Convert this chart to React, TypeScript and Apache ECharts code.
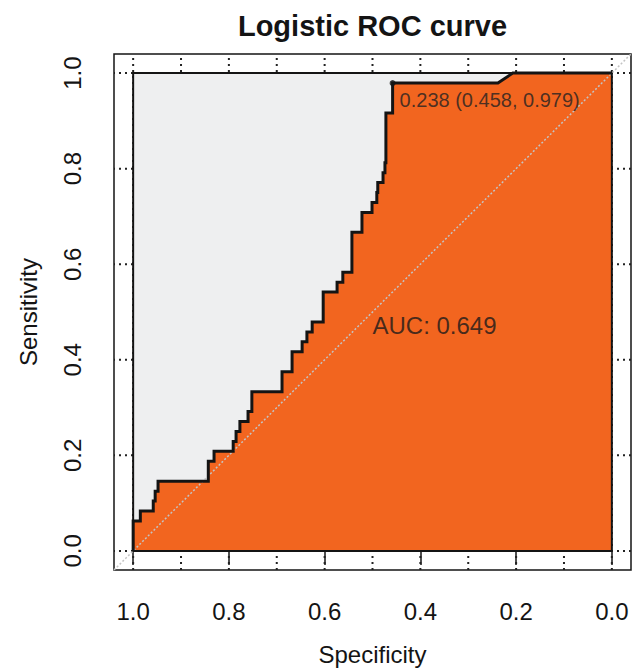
import React, { useEffect, useRef } from "react";
import * as echarts from "echarts";

// ROC curve vertices (specificity, sensitivity), step path
const specificity = [
  1.0, 1.0, 0.985, 0.985, 0.958, 0.958, 0.954, 0.954, 0.948, 0.948,
  0.843, 0.843, 0.831, 0.831, 0.791, 0.791, 0.785, 0.785, 0.777, 0.777,
  0.76, 0.76, 0.752, 0.752, 0.689, 0.689, 0.668, 0.668, 0.647, 0.647,
  0.637, 0.637, 0.626, 0.626, 0.603, 0.603, 0.574, 0.574, 0.562, 0.562,
  0.543, 0.543, 0.522, 0.522, 0.501, 0.501, 0.491, 0.491, 0.489, 0.489,
  0.478, 0.478, 0.474, 0.474, 0.472, 0.472, 0.458, 0.458, 0.238, 0.207, 0.0,
];
const sensitivity = [
  0.0, 0.0625, 0.0625, 0.0833, 0.0833, 0.1042, 0.1042, 0.125, 0.125, 0.1458,
  0.1458, 0.1875, 0.1875, 0.2083, 0.2083, 0.2292, 0.2292, 0.25, 0.25, 0.2708,
  0.2708, 0.2917, 0.2917, 0.3333, 0.3333, 0.375, 0.375, 0.4167, 0.4167, 0.4375,
  0.4375, 0.4583, 0.4583, 0.4792, 0.4792, 0.5417, 0.5417, 0.5625, 0.5625, 0.5833,
  0.5833, 0.6667, 0.6667, 0.7083, 0.7083, 0.7292, 0.7292, 0.75, 0.75, 0.7708,
  0.7708, 0.7917, 0.7917, 0.8125, 0.8125, 0.9167, 0.9167, 0.9792, 0.9792, 1.0, 1.0,
];

const tickValues = [0, 0.2, 0.4, 0.6, 0.8, 1.0];
const xGridValues = [0, 0.1, 0.2, 0.3, 0.4, 0.5, 0.6, 0.7, 0.8, 0.9, 1.0];
const yGridValues = [0, 0.2, 0.4, 0.6, 0.8, 1.0];

const bestThreshold = 0.238;
const bestSpecificity = 0.458;
const bestSensitivity = 0.979;
const aucValue = 0.649;
const aucPosition = [0.5, 0.5];

const titleText = "Logistic ROC curve";
const xName = "Specificity";
const yName = "Sensitivity";

const FONT = "'Liberation Sans', Arial, Helvetica, sans-serif";
const INK = "#141414";
const LO = -0.04;
const HI = 1.04;

export default function App() {
  const ref = useRef<HTMLDivElement>(null);

  useEffect(() => {
    if (!ref.current) return;
    const chart = echarts.init(ref.current, undefined, { renderer: "svg" });

    const curve = specificity.map((s, i) => [s, sensitivity[i]]);

    const gridStyle = { color: "#222222", type: [2, 4], width: 2 };
    const gridSeries = [
      ...xGridValues.map((v) => ({
        type: "line",
        data: [
          [v, LO],
          [v, HI],
        ],
        z: 1,
        silent: true,
        symbol: "none",
        lineStyle: gridStyle,
      })),
      ...yGridValues.map((v) => ({
        type: "line",
        data: [
          [LO, v],
          [HI, v],
        ],
        z: 1,
        silent: true,
        symbol: "none",
        lineStyle: gridStyle,
      })),
    ];

    const option: any = {
      animation: false,
      backgroundColor: "#ffffff",
      textStyle: { fontFamily: FONT },
      grid: {
        left: 114,
        top: 54,
        width: 517,
        height: 516,
        show: true,
        borderColor: INK,
        borderWidth: 1.5,
        backgroundColor: "transparent",
      },
      xAxis: {
        type: "value",
        min: LO,
        max: HI,
        inverse: true,
        name: xName,
        nameLocation: "middle",
        nameGap: 72,
        nameTextStyle: { fontSize: 24, color: INK, fontFamily: FONT },
        axisLine: { show: false },
        axisTick: {
          show: true,
          customValues: tickValues,
          length: 14,
          lineStyle: { color: INK, width: 1.5 },
        },
        axisLabel: {
          customValues: tickValues,
          formatter: (v: number) => v.toFixed(1),
          fontSize: 24,
          margin: 29,
          color: INK,
          fontFamily: FONT,
        },
        splitLine: { show: false },
      },
      yAxis: {
        type: "value",
        min: LO,
        max: HI,
        name: yName,
        nameLocation: "middle",
        nameGap: 74,
        nameTextStyle: { fontSize: 24, color: INK, fontFamily: FONT },
        axisLine: { show: false },
        axisTick: {
          show: true,
          customValues: tickValues,
          length: 14,
          lineStyle: { color: INK, width: 1.5 },
        },
        axisLabel: {
          customValues: tickValues,
          formatter: (v: number) => v.toFixed(1),
          fontSize: 24,
          margin: 30,
          rotate: 90,
          color: INK,
          fontFamily: FONT,
        },
        splitLine: { show: false },
      },
      graphic: [
        {
          type: "text",
          x: 372.5,
          y: 26,
          style: {
            text: titleText,
            fontSize: 29,
            fontWeight: "bold",
            fontFamily: FONT,
            fill: INK,
            align: "center",
            verticalAlign: "middle",
          },
        },
      ],
      series: [
        ...gridSeries,
        {
          type: "line",
          data: [
            [1, 1],
            [0, 1],
          ],
          z: 2,
          silent: true,
          symbol: "none",
          lineStyle: { width: 0 },
          areaStyle: { color: "#EEEFF0", opacity: 1 },
        },
        {
          type: "line",
          data: curve,
          z: 3,
          silent: true,
          symbol: "none",
          lineStyle: { width: 0 },
          areaStyle: { color: "#F2651F", opacity: 1 },
        },
        {
          type: "line",
          data: [
            [HI, LO],
            [LO, HI],
          ],
          z: 4,
          silent: true,
          symbol: "none",
          lineStyle: { color: "#c4c4c4", width: 1.5, type: [2, 2] },
        },
        {
          type: "line",
          data: [
            [1, 0],
            [1, 1],
            [0, 1],
            [0, 0],
            [1, 0],
          ],
          z: 5,
          silent: true,
          symbol: "none",
          lineStyle: { color: INK, width: 2 },
        },
        {
          type: "line",
          data: curve,
          z: 6,
          silent: true,
          symbol: "none",
          lineStyle: { color: INK, width: 3, join: "miter" },
        },
        {
          type: "scatter",
          data: [[bestSpecificity, bestSensitivity]],
          z: 7,
          silent: true,
          symbolSize: 6,
          itemStyle: { color: INK },
          label: {
            show: true,
            formatter: () =>
              `${bestThreshold.toFixed(3)} (${bestSpecificity.toFixed(3)}, ${bestSensitivity.toFixed(3)})`,
            position: "right",
            distance: 4,
            offset: [0, 17],
            fontSize: 20,
            color: "#222222",
            fontFamily: FONT,
          },
        },
        {
          type: "scatter",
          data: [aucPosition],
          z: 7,
          silent: true,
          symbolSize: 0,
          itemStyle: { color: "transparent" },
          label: {
            show: true,
            formatter: () => `AUC: ${aucValue.toFixed(3)}`,
            position: "right",
            distance: 0,
            offset: [0, 13],
            fontSize: 24,
            color: "#1a1a1a",
            fontFamily: FONT,
          },
        },
      ],
    };

    chart.setOption(option);
    return () => chart.dispose();
  }, []);

  return (
    <div
      ref={ref}
      style={{ position: "fixed", left: 0, top: 0, width: 638, height: 672 }}
    />
  );
}
